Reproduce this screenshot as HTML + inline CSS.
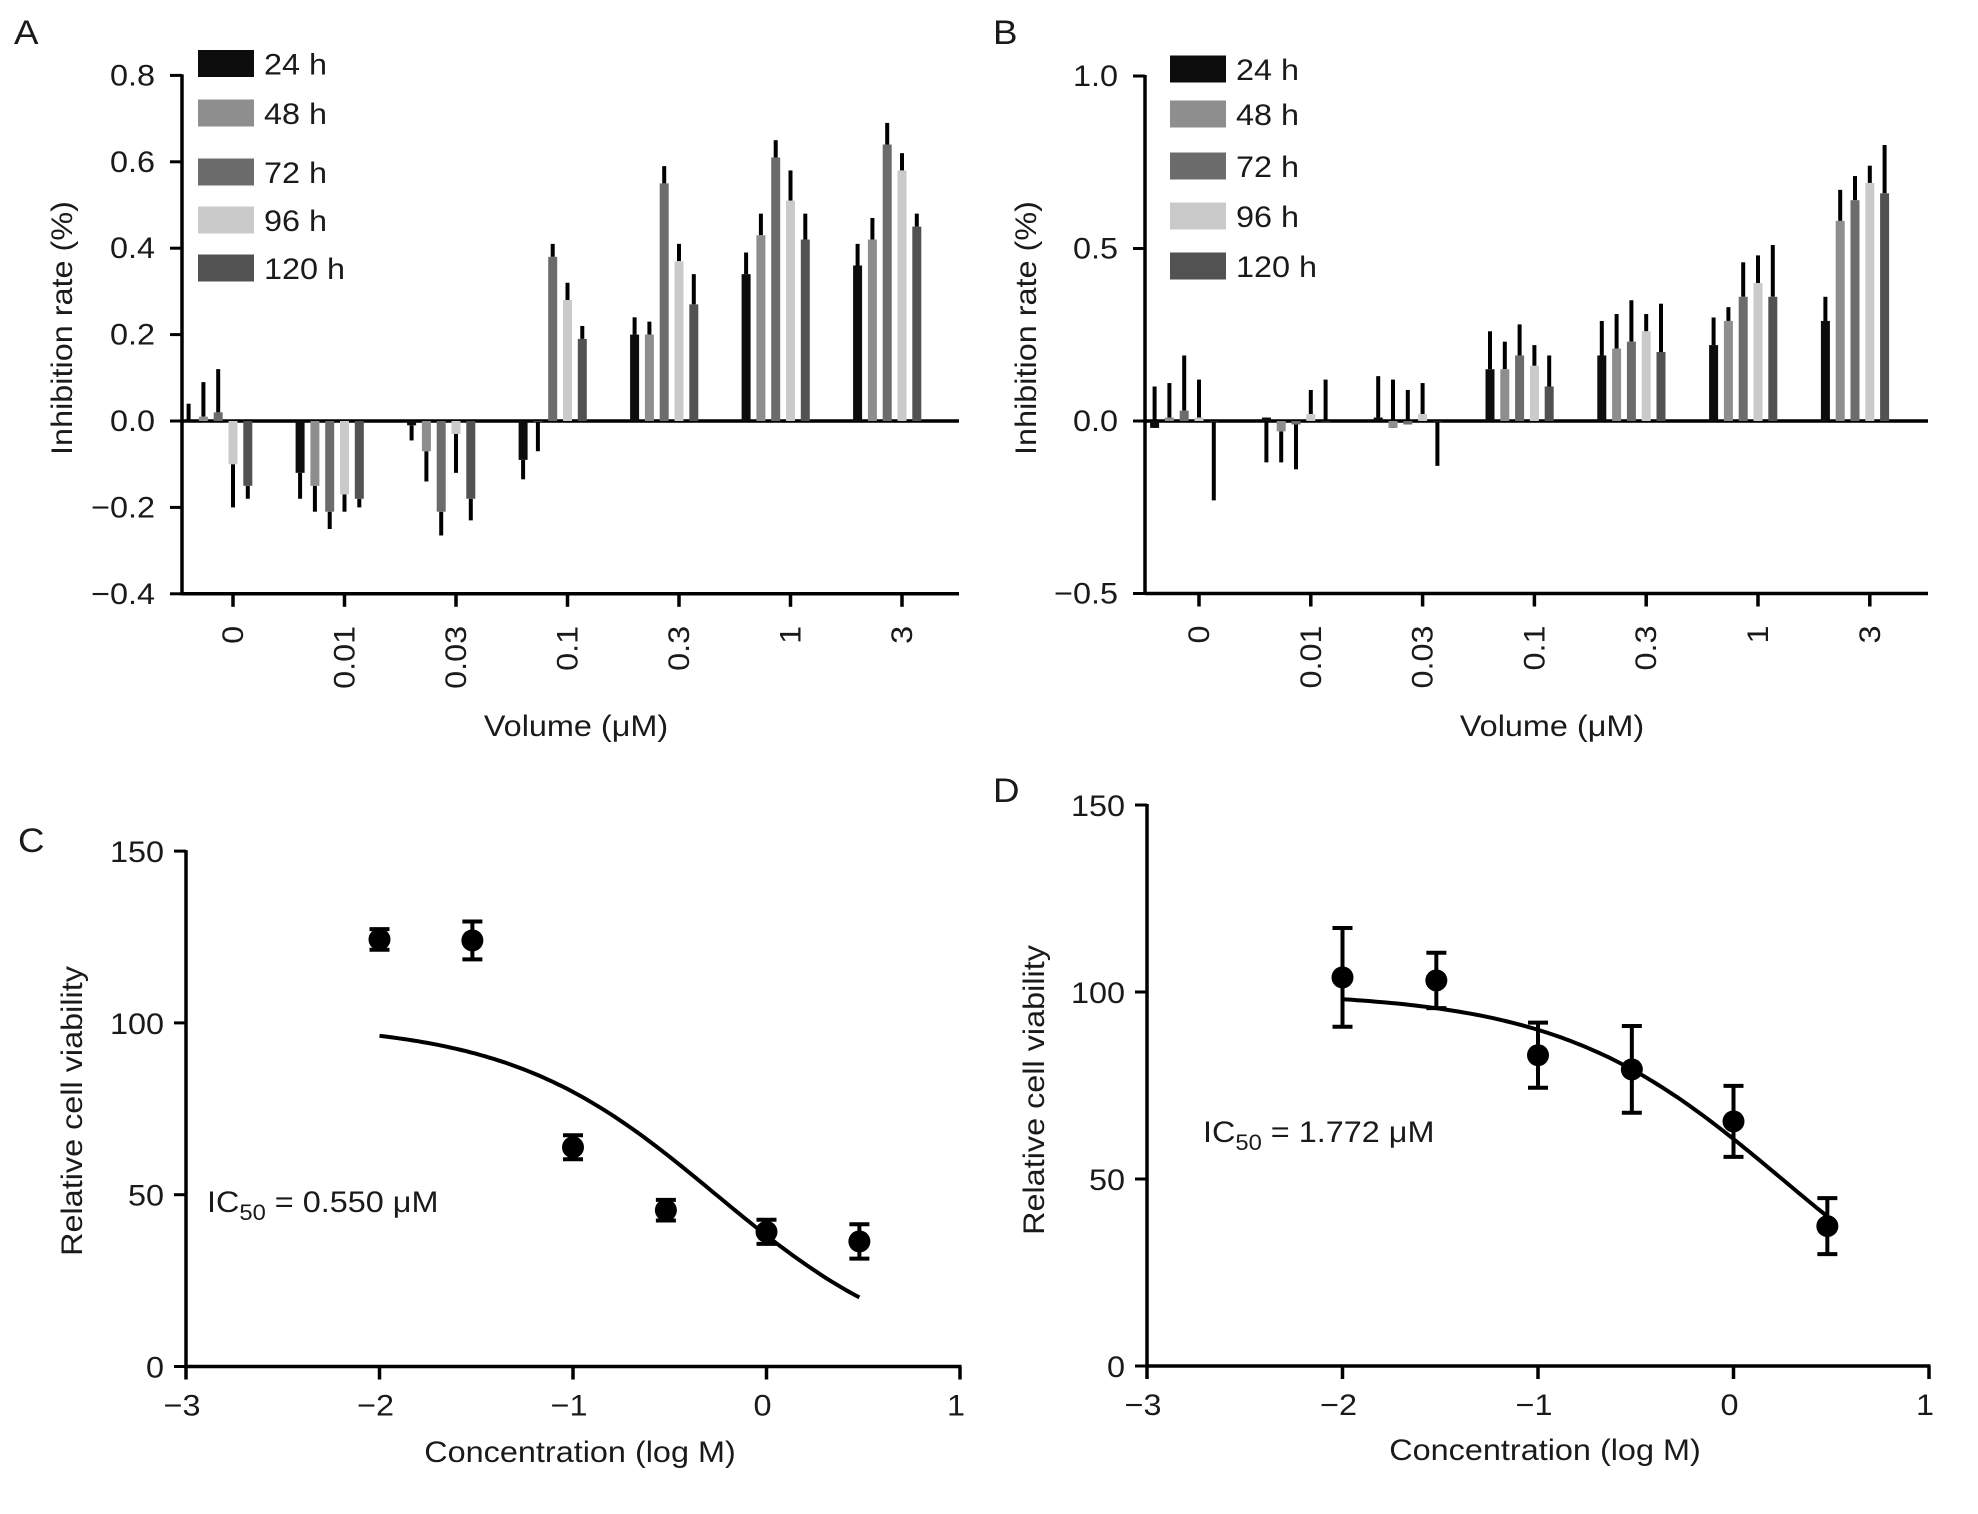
<!DOCTYPE html>
<html><head><meta charset="utf-8"><title>Inhibition rate and cell viability figure</title>
<style>
html,body{margin:0;padding:0;background:#fff;}
svg{display:block;}
text{font-family:"Liberation Sans",Arial,sans-serif;fill:#1a1a1a;}
</style></head>
<body>
<svg id="fig" xmlns="http://www.w3.org/2000/svg" width="1978" height="1514" viewBox="0 0 1978 1514"></svg>
<script>
// ---------- Data ----------
const categories = ["0","0.01","0.03","0.1","0.3","1","3"];
const seriesNames = ["24 h","48 h","72 h","96 h","120 h"];
const seriesColors = ["#0d0d0d","#8e8e8e","#6c6c6c","#cacaca","#525252"];
// Panel A values and error-bar ends, per time point (rows) by category (cols)
const aVals24 = [0.00,-0.12,-0.01,-0.09,0.20,0.34,0.36];
const aErr24  = [0.04,-0.18,-0.045,-0.135,0.24,0.39,0.41];
const aVals48 = [0.01,-0.15,-0.07,0.00,0.20,0.43,0.42];
const aErr48  = [0.09,-0.21,-0.14,-0.07,0.23,0.48,0.47];
const aVals72 = [0.02,-0.21,-0.21,0.38,0.55,0.61,0.64];
const aErr72  = [0.12,-0.25,-0.265,0.41,0.59,0.65,0.69];
const aVals96 = [-0.10,-0.17,-0.03,0.28,0.37,0.51,0.58];
const aErr96  = [-0.20,-0.21,-0.12,0.32,0.41,0.58,0.62];
const aVals120= [-0.15,-0.18,-0.18,0.19,0.27,0.42,0.45];
const aErr120 = [-0.18,-0.20,-0.23,0.22,0.34,0.48,0.48];
// Panel B
const bVals24 = [-0.02,0.01,0.01,0.15,0.19,0.22,0.29];
const bErr24  = [0.10,-0.12,0.13,0.26,0.29,0.30,0.36];
const bVals48 = [0.01,-0.03,-0.02,0.15,0.21,0.29,0.58];
const bErr48  = [0.11,-0.12,0.12,0.23,0.31,0.33,0.67];
const bVals72 = [0.03,-0.01,-0.01,0.19,0.23,0.36,0.64];
const bErr72  = [0.19,-0.14,0.09,0.28,0.35,0.46,0.71];
const bVals96 = [0.01,0.02,0.02,0.16,0.26,0.40,0.69];
const bErr96  = [0.12,0.09,0.11,0.22,0.31,0.48,0.74];
const bVals120= [0.00,0.00,0.00,0.10,0.20,0.36,0.66];
const bErr120 = [-0.23,0.12,-0.13,0.19,0.34,0.51,0.80];
const aTicks = [-0.4,-0.2,0.0,0.2,0.4,0.6,0.8];
const aTickLabels = ["\u22120.4","\u22120.2","0.0","0.2","0.4","0.6","0.8"];
const bTicks = [-0.5,0.0,0.5,1.0];
const bTickLabels = ["\u22120.5","0.0","0.5","1.0"];
// Panels C, D
const logConc = [-2,-1.52,-1,-0.52,0,0.48];
const cViab = [124.3,124.0,63.8,45.5,39.2,36.4];
const cSem  = [3,5.5,3.5,3,3.5,5];
const dViab = [103.9,103.1,83.1,79.3,65.4,37.4];
const dSem  = [13.2,7.4,8.7,11.6,9.5,7.5];
const cFit = {top:100,bottom:0,logIC50:-0.26,hill:0.81};
const dFit = {top:100,bottom:0,logIC50:0.248,hill:0.76};
const xTicksCD = [-3,-2,-1,0,1];
const xTickLabelsCD = ["\u22123","\u22122","\u22121","0","1"];
const yTicksCD = [0,50,100,150];
const yTickLabelsCD = ["0","50","100","150"];

// ---------- Helpers ----------
const NS="http://www.w3.org/2000/svg";
const svg=document.getElementById('fig');
function el(tag,attrs,parent){const e=document.createElementNS(NS,tag);for(const k in attrs)e.setAttribute(k,attrs[k]);(parent||svg).appendChild(e);return e;}
const SX=1.08;
function txt(parent,x,y,s,size,anchor,rot){
  const t=el('text',{'font-size':size,'text-anchor':anchor||'start',
    transform:'translate('+x+','+y+')'+(rot?' rotate('+rot+')':'')+' scale('+SX+',1)'},parent);
  t.textContent=s;return t;
}
function line(parent,x1,y1,x2,y2,w){return el('line',{x1:x1,y1:y1,x2:x2,y2:y2,stroke:'#000','stroke-width':w||3},parent);}

// ---------- Bar panels ----------
function barPanel(opt){
  const g=el('g',{});
  
  
  const y=v=>opt.y0-v*opt.ppu;
  const xc=i=>opt.tick0+i*opt.step;
  // axes
  const ya=line(g,opt.ax,y(opt.ymax)-1,opt.ax,y(opt.ymin)+1.5,3.5);
  
  
  opt.ticks.forEach((v,i)=>{
    line(g,opt.ax-12,y(v),opt.ax,y(v),3);
    const t=txt(g,opt.ax-27,y(v)+10,opt.tickLabels[i],30,'end');
    
    
  });
  const xa=line(g,opt.ax,y(opt.ymin),opt.xend,y(opt.ymin),3.5);
  
  
  const zl=line(g,opt.ax,y(0),opt.xend,y(0),3.5);
  
  
  categories.forEach((c,i)=>{
    line(g,xc(i),y(opt.ymin),xc(i),y(opt.ymin)+13,3.5);
    const t=txt(g,xc(i)+10,y(opt.ymin)+32,c,30,'end',-90);
    
    
  });
  // bars
  opt.vals.forEach((arr,s)=>{
    arr.forEach((v,i)=>{
      const cx=xc(i)+(s-3)*14.8;
      const e=opt.errs[s][i];
      const eb=el('line',{x1:cx,y1:y(v),x2:cx,y2:y(e),stroke:'#000','stroke-width':4},g);
      
      
      const top=Math.min(y(v),y(0)),h=Math.abs(y(v)-y(0));
      const r=el('rect',{x:cx-4.5,y:top,width:9,height:Math.max(h,0.5),fill:seriesColors[s]},g);
      
      
    });
  });
  // legend
  seriesNames.forEach((n,s)=>{
    const cy=opt.legY[s];
    const r=el('rect',{x:opt.legX,y:cy-13.5,width:56,height:27,fill:seriesColors[s]},g);
    
    
    const t=txt(g,opt.legX+66,cy+11,n,30,'start');
    
    
  });
  const yt=txt(g,opt.ytX,opt.ytY,'Inhibition rate (%)',30,'middle',-90);
  
  
  const xt=txt(g,opt.xtX,736,'Volume (\u03bcM)',30,'middle');
  
  
  const pl=txt(g,opt.plX,44,opt.letter,34,'start');
  
  
}
barPanel({name:'panel-a-bar-chart',letter:'A',plX:14,ax:182,xend:959,y0:421,ppu:432,ymin:-0.4,ymax:0.8,
  ticks:aTicks,tickLabels:aTickLabels,tick0:233,step:111.5,
  vals:[aVals24,aVals48,aVals72,aVals96,aVals120],errs:[aErr24,aErr48,aErr72,aErr96,aErr120],
  legX:198,legY:[63.5,113,172,220,268],ytX:72,ytY:328,xtX:576});
barPanel({name:'panel-b-bar-chart',letter:'B',plX:993,ax:1145,xend:1928,y0:421,ppu:345,ymin:-0.5,ymax:1.0,
  ticks:bTicks,tickLabels:bTickLabels,tick0:1199,step:111.8,
  vals:[bVals24,bVals48,bVals72,bVals96,bVals120],errs:[bErr24,bErr48,bErr72,bErr96,bErr120],
  legX:1170,legY:[69,114,166,216,266],ytX:1036,ytY:328,xtX:1552});

// ---------- Dose response panels ----------
function dosePanel(opt){
  const g=el('g',{});
  
  
  const x=v=>opt.ax+(v+3)*opt.ppx;
  const y=v=>opt.y0-v*opt.ppy;
  const ya=line(g,opt.ax,y(150)-1,opt.ax,y(0)+1.5,3.5);
  
  
  const xa=line(g,opt.ax,y(0),x(1)+1.5,y(0),3.5);
  
  
  yTicksCD.forEach((v,i)=>{
    line(g,opt.ax-12,y(v),opt.ax,y(v),3);
    const t=txt(g,opt.ax-22,y(v)+11,yTickLabelsCD[i],30,'end');
    
    
  });
  xTicksCD.forEach((v,i)=>{
    line(g,x(v),y(0),x(v),y(0)+13,3.5);
    const t=txt(g,x(v)-4,y(0)+49,xTickLabelsCD[i],30,'middle');
    
    
  });
  // fit curve
  const f=opt.fit;let d='';
  for(let k=0;k<=100;k++){
    const lx=logConc[0]+(logConc[logConc.length-1]-logConc[0])*k/100;
    const v=f.bottom+(f.top-f.bottom)/(1+Math.pow(10,(lx-f.logIC50)*f.hill));
    d+=(k?'L':'M')+x(lx).toFixed(1)+','+y(v).toFixed(1);
  }
  const p=el('path',{d:d,fill:'none',stroke:'#000','stroke-width':4},g);
  
  
  logConc.forEach((lc,i)=>{
    const cx=x(lc),v=opt.vals[i],e=opt.sem[i];
    const eg=el('path',{d:'M'+cx+','+y(v+e)+'V'+y(v-e)+'M'+(cx-10)+','+y(v+e)+'H'+(cx+10)+'M'+(cx-10)+','+y(v-e)+'H'+(cx+10),
      fill:'none',stroke:'#000','stroke-width':4},g);
    
    
    const c=el('ellipse',{cx:cx,cy:y(v),rx:11,ry:11,fill:'#000'},g);
    
    
  });
  const ic=el('text',{'font-size':30,transform:'translate('+opt.icX+','+opt.icY+') scale('+SX+',1)'},g);
  
  
  const t1=el('tspan',{},ic);t1.textContent='IC';
  const t2=el('tspan',{'font-size':22,dy:8},ic);t2.textContent='50';
  const t3=el('tspan',{dy:-8},ic);t3.textContent=' = '+opt.icText+' \u03bcM';
  const yt=txt(g,opt.ytX,opt.ytY,'Relative cell viability',30,'middle',-90);
  
  
  const xt=txt(g,opt.xtX,opt.xtY,'Concentration (log M)',30,'middle');
  
  
  const pl=txt(g,opt.plX,opt.plY,opt.letter,34,'start');
  
  
}
dosePanel({name:'panel-c-dose-response',letter:'C',plX:18,plY:852,ax:186,ppx:193.5,y0:1366.5,ppy:3.436,
  vals:cViab,sem:cSem,fit:cFit,icX:207,icY:1212,icText:'0.550',ytX:82,ytY:1111,xtX:580,xtY:1462});
dosePanel({name:'panel-d-dose-response',letter:'D',plX:993,plY:802,ax:1147,ppx:195.5,y0:1366,ppy:3.74,
  vals:dViab,sem:dSem,fit:dFit,icX:1203,icY:1142,icText:'1.772',ytX:1044,ytY:1090,xtX:1545,xtY:1460});
</script>
</body></html>
